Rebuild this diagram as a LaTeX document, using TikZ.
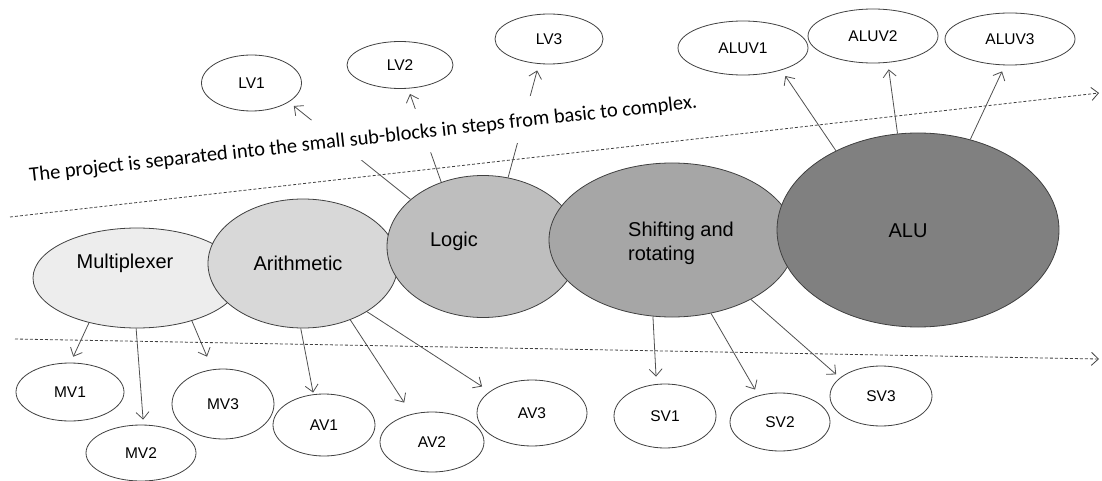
\documentclass[tikz,border=0pt]{standalone}
\usepackage{fontspec}
\setmainfont{Liberation Sans}
\newfontfamily\calfont{Carlito}
\usetikzlibrary{shapes.geometric,arrows.meta}
\definecolor{cmux}{HTML}{EDEDED}
\definecolor{carith}{HTML}{D8D8D8}
\definecolor{clogic}{HTML}{BEBEBE}
\definecolor{cshift}{HTML}{A6A6A6}
\definecolor{calu}{HTML}{808080}
\definecolor{edge}{HTML}{404040}
\definecolor{arrowc}{HTML}{505050}
\begin{document}
\begin{tikzpicture}[x=1pt,y=-1pt,
  sz/.style 2 args={minimum width=#1pt, minimum height=#2pt},
  big/.style={ellipse, draw=edge, line width=0.8pt, inner sep=0pt},
  small/.style={ellipse, draw=edge, fill=white, line width=0.8pt, inner sep=0pt,
    font=\fontsize{15.5}{18}\selectfont},
  lbl/.style={font=\fontsize{20}{24}\selectfont, inner sep=0pt},
  arr/.style={draw=arrowc, line width=0.8pt, -{Straight Barb[length=7pt,width=13pt]}},
  dashline/.style={draw=edge, line width=0.8pt, dash pattern=on 3pt off 2pt,
    -{Straight Barb[length=7pt,width=13pt]}}
]
\useasboundingbox (0,0) rectangle (1102,481);

% dashed guide arrows
\coordinate (d1s) at (10,217);
\coordinate (d1e) at (1099,93);
\coordinate (d2s) at (15,339);
\coordinate (d2e) at (1099,359);
\draw[dashline] (d1s) -- (d1e);
\draw[dashline] (d2s) -- (d2e);

% main blocks
\node[big, fill=cmux,   sz={208}{100}] (mux)   at (137,278) {};
\node[big, fill=carith, sz={190}{129}] (arith) at (303,263.5) {};
\node[big, fill=clogic, sz={192}{142}] (logic) at (483,246.5) {};
\node[big, fill=cshift, sz={246}{154}] (shift) at (672,240) {};
\node[big, fill=calu,   sz={282}{194}] (alu)   at (918,230) {};

\node[lbl] (muxt)   at (125,263) {Multiplexer};
\node[lbl] (aritht) at (298,263) {Arithmetic};
\node[lbl] (logict) at (454,241) {Logic};
\node[lbl, anchor=west, align=left] (shiftt) at (628,243) {Shifting and\\rotating};
\node[lbl] (alut)   at (908,231) {ALU};

% sub-block nodes
\node[small, sz={100}{56}] (lv1) at (251.5,83) {LV1};
\node[small, sz={106}{47}] (lv2) at (400,65) {LV2};
\node[small, sz={108}{50}] (lv3) at (549,39) {LV3};
\node[small, sz={130}{54}] (aluv1) at (743,48) {ALUV1};
\node[small, sz={130}{54}] (aluv2) at (873,36) {ALUV2};
\node[small, sz={130}{52}] (aluv3) at (1010,39) {ALUV3};
\node[small, sz={108}{58}] (mv1) at (70,392) {MV1};
\node[small, sz={110}{56}] (mv2) at (141,453) {MV2};
\node[small, sz={102}{70}] (mv3) at (223,404) {MV3};
\node[small, sz={102}{62}] (av1) at (324,425) {AV1};
\node[small, sz={104}{60}] (av2) at (432,442) {AV2};
\node[small, sz={110}{66}] (av3) at (532,413) {AV3};
\node[small, sz={102}{64}] (sv1) at (665,416) {SV1};
\node[small, sz={100}{58}] (sv2) at (780,422) {SV2};
\node[small, sz={102}{60}] (sv3) at (881,396) {SV3};

% connectors
\draw[arr, shorten >=6.3pt] (logic.147.9) -- (lv1.-27.5);
\draw[arr, shorten >=5.6pt] (logic.123.5) -- (lv2.-71);
\draw[arr, shorten >=6.7pt] (logic.70.9) -- (lv3.-112.5);
\draw[arr, shorten >=7pt]   (alu.136.7) -- (aluv1.-30.8);
\draw[arr, shorten >=6.7pt] (alu.102.3) -- (aluv2.-61.9);
\draw[arr, shorten >=6.7pt] (alu.60.3) -- (aluv3.-101.2);
\draw[arr, shorten >=6.5pt] (mux.-137.4) -- (mv1.89.3);
\draw[arr, shorten >=5pt]   (mux.-91.1) -- (mv2.85.1);
\draw[arr, shorten >=13.8pt] (mux.-38.2) -- (mv3.107.7);
\draw[arr, shorten >=1.7pt] (arith.-92.6) -- (av1.109.4);
\draw[arr, shorten >=13.6pt] (arith.-50.5) -- (av2.126.7);
\draw[arr, shorten >=9.1pt] (arith.-37.5) -- (av3.153.5);
\draw[arr, shorten >=7.5pt] (shift.-104.2) -- (sv1.105);
\draw[arr, shorten >=6.8pt] (shift.-62.5) -- (sv2.129.5);
\draw[arr, shorten >=5pt]   (shift.-37.2) -- (sv3.156.8);

% caption
\node[fill=white, rotate=6.3, anchor=base west, inner xsep=4pt, inner ysep=0pt,
      text height=30pt, text depth=15pt,
      font=\calfont\fontsize{20.5}{24}\selectfont] (caption) at (26,182)
  {The project is separated into the small sub-blocks in steps from basic to complex.};
\end{tikzpicture}
\end{document}
